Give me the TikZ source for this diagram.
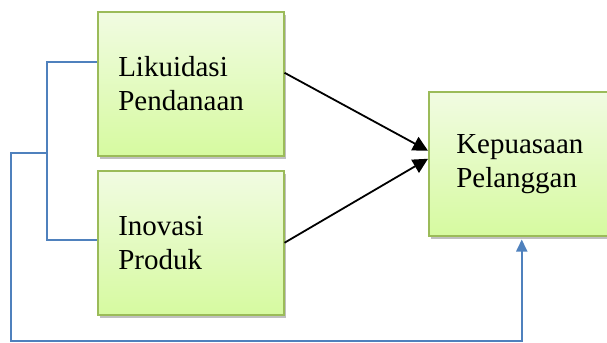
\documentclass[tikz,border=0pt]{standalone}
\usepackage{fontspec}
\setmainfont{Liberation Serif}
\usetikzlibrary{arrows.meta,shadows,calc}
\definecolor{boxtop}{RGB}{241,251,226}
\definecolor{boxbot}{RGB}{214,250,160}
\definecolor{boxline}{RGB}{155,187,89}
\definecolor{bluel}{RGB}{79,129,189}
\tikzset{
  varbox/.style={draw=boxline, line width=1.5bp, top color=boxtop, bottom color=boxbot,
    anchor=north west, minimum width=186bp, minimum height=144bp,
    text width=145bp, inner xsep=19bp, align=left,
    font=\fontsize{29bp}{34bp}\selectfont,
    drop shadow={shadow xshift=2.5bp, shadow yshift=-3.5bp, fill=black!55, opacity=.45}},
  blk/.style={line width=1.8bp, -{Triangle[length=15bp,width=15bp]}},
  bl/.style={draw=bluel, line width=1.8bp},
}
\begin{document}
\begin{tikzpicture}[x=1bp,y=-1bp]
\useasboundingbox (0,0) rectangle (607,342);
\clip (0,0) rectangle (607,342);
\node[varbox] (b1) at (97,11) {Likuidasi\\Pendanaan};
\node[varbox] (b2) at (97,170) {Inovasi\\Produk};
\node[varbox, minimum width=200bp, inner xsep=20bp] (b3) at (428,91) {Kepuasaan\\Pelanggan};
\draw[blk] ([yshift=11bp]b1.east) -- ([yshift=13bp]b3.west);
\draw[blk] ([yshift=0bp]b2.east) -- ([yshift=5bp]b3.west);
\coordinate (j) at (47,153);
\coordinate (c) at (11,341);
\draw[bl] ([yshift=22bp]b1.west) -| (j) |- ([yshift=2.5bp]b2.west);
\draw[bl, -{Triangle[length=12bp,width=11bp]}, shorten >=3bp] (j) -| (c) -| ([xshift=-7bp]b3.south);
\end{tikzpicture}
\end{document}
